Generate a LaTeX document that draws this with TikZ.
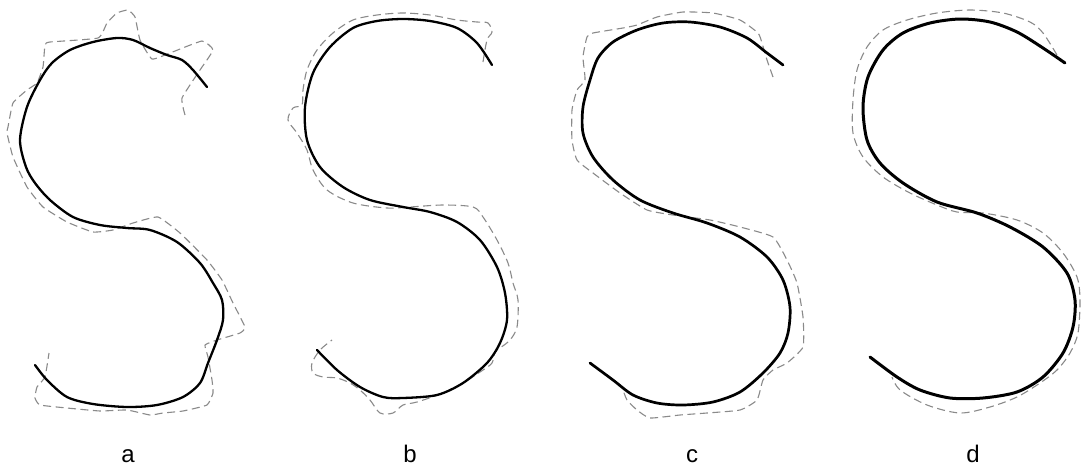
\documentclass[tikz,border=0pt]{standalone}
\usepackage{fontspec}
\newfontfamily\lblfont{Liberation Sans}
\usepackage{xcolor}
\definecolor{strokegray}{HTML}{8A8A8A}

\begin{document}
\begin{tikzpicture}[x=1pt, y=-1pt,
  curve/.style={black, line width=2.3pt, line cap=round, line join=round},
  outline/.style={strokegray, line width=1.1pt, dash pattern=on 8pt off 4.5pt, line join=round},
  lbl/.style={font=\lblfont\fontsize{24}{28}\selectfont, inner sep=0pt, anchor=base}
]
  \useasboundingbox (0,0) rectangle (1082,466);

  % a
  \draw[outline] plot[smooth, tension=0.25] coordinates {
    (185,115) (182,98) (200,70) (213,50) (202,41) (170,53) (152,59) (140,40)
    (135,17) (128,10) (117,13) (107,23) (98,38) (50,42) (45,45) (43,67)
    (37,83) (27,90) (13,103) (8,127) (7,133) (13,157) (27,187) (43,207)
    (67,222) (93,232) (113,230) (133,223) (158,217) (180,233) (207,260)
    (222,280) (233,303) (245,327) (240,333) (217,340) (205,345) (208,357)
    (212,380) (213,393) (207,405) (183,411) (163,413) (150,415) (127,410)
    (100,411) (67,408) (40,405) (35,398) (37,387) (45,377) (49,353)};
  \draw[curve] plot[smooth] coordinates {
    (207,87) (193,70) (182,60) (167,55) (150,48) (133,40) (117,38) (93,42)
    (70,50) (52,63) (40,80) (27,107) (20,140) (26,167) (35,183) (50,200)
    (73,217) (100,225) (127,228) (150,230) (177,242) (200,263) (213,283)
    (222,300) (223,320) (217,340) (208,363) (200,383) (183,397) (157,405)
    (127,407) (93,404) (67,397) (47,380) (35,365)};
  \node[lbl] (la) at (128,462) {a};

  % b
  \draw[outline] plot[smooth, tension=0.5] coordinates {
    (483,62) (487,40) (492,32) (488,23) (477,22) (457,20) (430,15) (403,13)
    (377,15) (353,20) (333,33) (317,50) (307,70) (303,90) (302,105) (293,108)
    (288,120) (297,133) (307,150) (313,170) (327,190) (353,203) (387,208)
    (410,207) (443,205) (473,207) (483,217) (497,240) (508,263) (513,283)
    (518,300) (517,327) (510,340) (500,348) (495,352) (492,363) (483,370)
    (463,383) (443,393) (417,402) (403,405) (393,413) (380,413) (370,400)
    (360,390) (350,383) (337,378) (323,377) (313,373) (312,363) (320,350)
    (332,340)};
  \draw[curve] plot[smooth] coordinates {
    (492,65) (477,43) (457,28) (430,21) (403,19) (377,21) (353,28) (330,47)
    (313,73) (305,107) (307,140) (320,167) (343,187) (370,200) (403,207)
    (430,212) (457,222) (480,240) (497,267) (505,293) (507,320) (500,343)
    (487,363) (463,383) (437,395) (403,398) (383,397) (360,387) (337,370)
    (317,350)};
  \node[lbl] (lb) at (410,462) {b};

  % c
  \draw[outline] plot[smooth, tension=0.3] coordinates {
    (773,77) (767,60) (762,43) (758,33) (740,20) (713,13) (683,12) (657,17)
    (637,25) (623,28) (593,33) (587,37) (583,57) (585,80) (577,90) (572,110)
    (572,140) (577,160) (593,173) (620,193) (647,210) (673,215) (710,220)
    (740,227) (773,237) (787,260) (797,283) (803,317) (803,347) (787,363)
    (773,370) (763,380) (757,400) (740,410) (707,413) (680,415) (650,418)
    (637,410) (627,400) (623,390)};
  \draw[curve, line width=2.7pt] plot[smooth] coordinates {
    (783,65) (767,53) (747,38) (720,27) (690,22) (663,23) (637,30) (613,42)
    (598,58) (590,80) (583,107) (583,133) (593,157) (613,180) (640,200)
    (673,213) (707,223) (740,237) (767,257) (783,280) (790,307) (788,333)
    (780,353) (763,373) (740,392) (713,402) (683,405) (657,403) (633,395)
    (613,380) (590,363)};
  \node[lbl] (lc) at (692,462) {c};

  % d
  \draw[outline] plot[smooth] coordinates {
    (1057,55) (1043,33) (1030,22) (1003,13) (970,10) (937,13) (907,20)
    (883,30) (867,47) (857,70) (853,100) (853,133) (863,157) (883,177)
    (910,193) (937,205) (957,212) (983,213) (1017,220) (1043,233) (1063,253)
    (1077,277) (1080,300) (1078,333) (1070,353) (1057,370) (1040,383)
    (1017,397) (990,407) (960,413) (927,405) (900,390) (892,377)};
  \draw[curve, line width=3pt] plot[smooth] coordinates {
    (1065,63) (1043,48) (1017,32) (990,22) (960,19) (930,23) (903,33)
    (883,50) (868,77) (863,107) (867,140) (880,163) (903,183) (937,202)
    (977,213) (1010,227) (1043,247) (1067,273) (1075,300) (1073,327)
    (1063,353) (1043,377) (1017,392) (983,398) (950,398) (920,390) (897,377)
    (870,357)};
  \node[lbl] (ld) at (973,462) {d};
\end{tikzpicture}
\end{document}
